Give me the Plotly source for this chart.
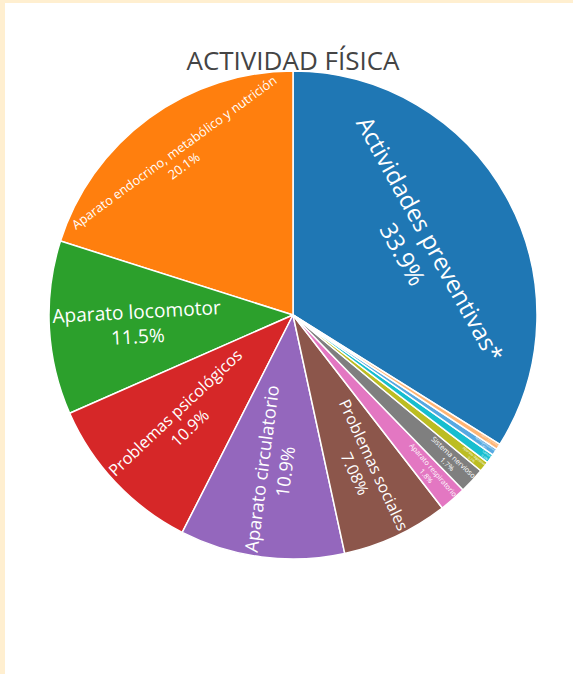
import plotly.graph_objects as go

labels = [
    "Actividades preventivas*",
    "Aparato endocrino, metabólico y nutrición",
    "Aparato locomotor",
    "Problemas psicológicos",
    "Aparato circulatorio",
    "Problemas sociales",
    "Aparato respiratorio",
    "Sistema nervioso",
    "Aparato digestivo",
    "Cáncer",
    "Aparato genitourinario",
    "Órganos de los sentidos",
]
values = [33.9, 20.1, 11.5, 10.9, 10.9, 7.08, 1.8, 1.7, 0.7, 0.6, 0.45, 0.37]

title_text = "ACTIVIDAD FÍSICA"

d3_colors = ["#1f77b4", "#ff7f0e", "#2ca02c", "#d62728", "#9467bd",
             "#8c564b", "#e377c2", "#7f7f7f", "#bcbd22", "#17becf"]

W, H = 573, 674
cx, cy, r = 293, 315, 244
ml, mr = cx - r, W - (cx + r)
mt, mb = cy - r, H - (cy + r)

fig = go.Figure(go.Pie(
    labels=labels,
    values=values,
    textinfo="label+percent",
    textposition="inside",
    insidetextorientation="auto",
    insidetextfont=dict(size=24, family="Open Sans", color="white"),
    marker=dict(line=dict(color="white", width=1.5)),
    showlegend=False,
    hoverinfo="label+percent",
))

pw = 2 * r
fig.add_shape(
    type="rect", xref="paper", yref="paper", layer="below",
    x0=(5 - ml) / pw, x1=(W + 10 - ml) / pw,
    y0=-(mb + 20) / pw, y1=(H - mb - 3) / pw,
    fillcolor="white", line=dict(width=0),
)

fig.update_layout(
    width=W, height=H,
    colorway=d3_colors,
    margin=dict(l=ml, r=mr, t=mt, b=mb, pad=0),
    paper_bgcolor="#FFEFD0",
    font=dict(family="Open Sans", color="#444"),
    title=dict(text=title_text, x=cx / W, xanchor="center",
               y=1 - 61 / H, yanchor="middle",
               font=dict(size=26, color="#444", family="Open Sans")),
)

fig.write_html("out.html",
               config={"displayModeBar": False},
               post_script="document.body.style.margin='0';document.body.style.overflow='hidden';")
